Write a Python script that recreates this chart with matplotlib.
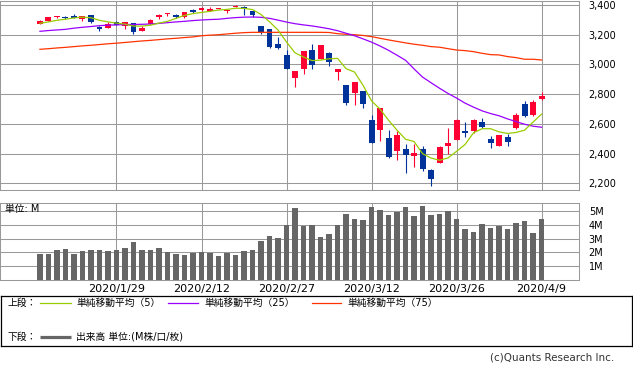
import numpy as np
import matplotlib
matplotlib.use("Agg")
import matplotlib.pyplot as plt

plt.rcParams['font.family'] = ['DejaVu Sans', 'Noto Sans CJK JP']

# ---------------- data ----------------
opens = [3274,3294,3319,3321,3328,3308,3333,3250,3247,3286,3259,3279,3227,3270,3317,3337,3333,3317,3366,3366,
         3360,3373,3360,3385,3385,3360,3259,3239,3138,3064,2909,2970,3097,3037,3077,2952,2862,2808,2822,2627,
         2560,2506,2420,2432,2385,2432,2291,2340,2454,2495,2553,2553,2613,2499,2452,2511,2571,2734,2660,2768]
highs = [3299,3321,3328,3328,3340,3328,3335,3259,3286,3294,3288,3281,3259,3306,3340,3346,3340,3353,3373,3387,
         3387,3382,3368,3400,3390,3362,3261,3241,3185,3097,2958,3093,3138,3133,3084,2972,2864,2884,2824,2660,
         2710,2560,2553,2465,2466,2452,2300,2450,2571,2635,2613,2632,2640,2519,2527,2533,2672,2753,2761,2815]
lows = [3272,3292,3313,3308,3311,3294,3277,3227,3245,3264,3241,3207,3226,3269,3308,3326,3313,3315,3346,3360,
        3358,3371,3346,3383,3333,3319,3205,3111,3104,2968,2849,2936,2970,3035,2990,2898,2730,2730,2705,2469,
        2488,2371,2358,2271,2311,2284,2185,2335,2398,2490,2513,2537,2573,2439,2450,2452,2566,2647,2654,2761]
closes = [3292,3319,3326,3315,3313,3326,3288,3241,3274,3266,3286,3218,3247,3299,3335,3344,3321,3351,3353,3380,
          3373,3380,3366,3393,3375,3333,3218,3118,3111,2970,2956,3091,2997,3131,3017,2970,2741,2882,2734,2474,
          2708,2378,2526,2392,2405,2297,2232,2443,2472,2627,2537,2625,2580,2470,2524,2479,2660,2654,2746,2790]

ma5 = [3277,3286,3297,3304,3313,3318,3314,3297,3286,3278,3271,3258,3258,3264,3278,3290,3310,3330,3342,3350,
       3357,3366,3370,3378,3377,3369,3336,3287,3231,3151,3078,3050,3026,3029,3038,3041,2972,2949,2860,2755,
       2700,2625,2558,2497,2482,2400,2371,2356,2372,2416,2462,2541,2568,2568,2547,2536,2543,2558,2613,2666]
ma25 = [3223,3228,3232,3236,3244,3250,3255,3261,3264,3266,3268,3269,3270,3272,3276,3281,3286,3290,3295,3299,
        3302,3304,3310,3315,3318,3319,3317,3310,3298,3285,3274,3266,3259,3250,3240,3227,3210,3193,3172,3150,
        3124,3095,3062,3028,2970,2915,2877,2840,2805,2774,2740,2713,2688,2670,2655,2634,2616,2598,2585,2578]
ma75 = [3102,3106,3111,3115,3120,3125,3129,3134,3139,3143,3148,3153,3158,3162,3167,3172,3176,3181,3185,3193,
        3197,3200,3205,3210,3214,3216,3216,3216,3216,3216,3216,3216,3216,3216,3215,3207,3203,3200,3195,3187,
        3176,3165,3155,3145,3136,3129,3120,3116,3106,3097,3093,3086,3075,3066,3064,3053,3046,3035,3035,3030]

volume = [1.88,1.88,2.17,2.24,1.88,2.10,2.17,2.17,2.10,2.17,
          2.32,2.75,2.17,2.17,2.32,2.03,1.88,1.81,1.96,2.03,
          1.96,1.74,1.96,1.81,2.10,2.17,2.82,3.18,3.04,3.97,
          5.19,3.90,3.97,3.11,3.32,3.97,4.76,4.40,4.33,5.27,
          5.05,4.69,4.91,5.27,4.62,5.34,4.69,4.76,4.98,4.40,
          3.68,3.47,4.04,3.76,3.90,3.68,4.12,4.26,3.40,4.40]

date_tick_pos = [9, 19, 29, 39, 49, 59]
date_tick_labels = ['2020/1/29', '2020/2/12', '2020/2/27', '2020/3/12', '2020/3/26', '2020/4/9']
price_ticks = [2200, 2400, 2600, 2800, 3000, 3200, 3400]
price_tick_labels = ['2,200', '2,400', '2,600', '2,800', '3,000', '3,200', '3,400']
vol_ticks = [1, 2, 3, 4, 5]
vol_tick_labels = ['1M', '2M', '3M', '4M', '5M']

# ---------------- styles ----------------
RED = '#ff0033'
BLUE = '#003399'
C5 = '#99cc00'
C25 = '#9900ff'
C75 = '#ff3300'
VOLC = '#666666'
GRID = '#999999'

W, H = 633, 372
fig = plt.figure(figsize=(W / 100, H / 100), dpi=100)


def rect(x0, y0, x1, y1):
    return [x0 / W, 1 - y1 / H, (x1 - x0) / W, (y1 - y0) / H]


ax = fig.add_axes(rect(0, 0.5, 579, 190))
axv = fig.add_axes(rect(0, 202.7, 579, 280))

x = np.arange(len(closes))
o = np.array(opens, float)
c = np.array(closes, float)
hi = np.array(highs, float)
lo = np.array(lows, float)
up = c >= o
cols = np.where(up, RED, BLUE)

xlim = (-4.7, 63.4)

for a in (ax, axv):
    a.set_xlim(*xlim)
    a.set_xticks(date_tick_pos)
    a.grid(True, color=GRID, lw=0.75)
    a.set_axisbelow(True)
    a.yaxis.tick_right()
    a.tick_params(axis='both', length=0, labelsize=7, pad=7)
    for s in a.spines.values():
        s.set_color(GRID)
        s.set_linewidth(0.75)

# candles
ax.vlines(x, lo, hi, colors=cols, lw=0.8, zorder=2)
body_bottom = np.minimum(o, c)
body_h = np.maximum(np.abs(c - o), 6)
ax.bar(x, body_h, bottom=body_bottom, width=0.7, color=cols, lw=0, zorder=3)
ax.plot(x, ma75, color=C75, lw=0.9, zorder=4)
ax.plot(x, ma25, color=C25, lw=0.9, zorder=4)
ax.plot(x, ma5, color=C5, lw=0.9, zorder=4)

ax.set_ylim(2156, 3430)
ax.set_yticks(price_ticks)
ax.set_yticklabels(price_tick_labels)
ax.tick_params(axis='x', labelbottom=False)

# volume
axv.bar(x, volume, width=0.65, color=VOLC, lw=0, zorder=3)
axv.set_ylim(0, 5.6)
axv.set_yticks(vol_ticks)
axv.set_yticklabels(vol_tick_labels)
axv.set_xticklabels(date_tick_labels)
axv.tick_params(axis='x', labelsize=8, pad=3)
fig.text(5 / W, 1 - 209 / H, '単位: M', fontsize=7, va='center', ha='left')

# legend box
axl = fig.add_axes(rect(0.7, 295.7, 632.3, 346))
axl.set_xlim(0.7, 632.3)
axl.set_ylim(346, 295.7)
axl.set_xticks([])
axl.set_yticks([])
for s in axl.spines.values():
    s.set_color('black')
    s.set_linewidth(0.9)

r1, r2 = 302.7, 336.7
fs = 7
axl.text(8, r1, '上段：', va='center', fontsize=fs)
axl.plot([40, 71], [r1, r1], color=C5, lw=0.9)
axl.text(76, r1, '単純移動平均（5）', va='center', fontsize=fs)
axl.plot([168, 198], [r1, r1], color=C25, lw=0.9)
axl.text(204, r1, '単純移動平均（25）', va='center', fontsize=fs)
axl.plot([312, 341], [r1, r1], color=C75, lw=0.9)
axl.text(347, r1, '単純移動平均（75）', va='center', fontsize=fs)
axl.text(8, r2, '下段：', va='center', fontsize=fs)
axl.plot([40, 71], [r2, r2], color=VOLC, lw=2.3, solid_capstyle='butt')
axl.text(76, r2, '出来高 単位:(M株/口/枚)', va='center', fontsize=fs)

fig.text(614 / W, 1 - 358 / H, '(c)Quants Research Inc.', ha='right', va='center',
         fontsize=7.5, color='#333333')

fig.savefig('out.png', dpi=100)
